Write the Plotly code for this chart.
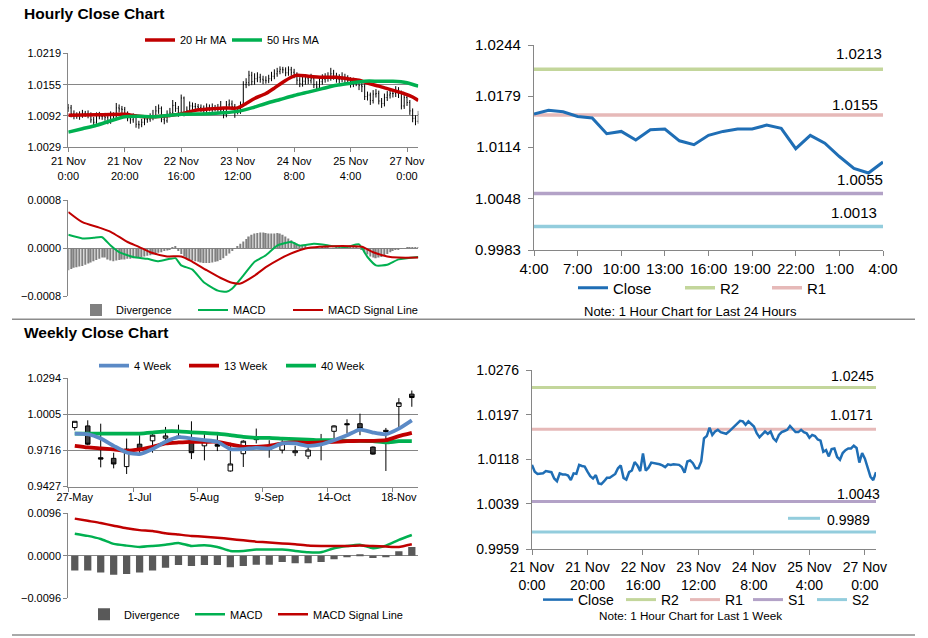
import plotly.graph_objects as go

W, H = 928, 638
FONT = "Liberation Sans, Arial, sans-serif"
BOLD = "Liberation Sans, Arial, sans-serif"
AX = "#868686"
TXT = "#000000"
RED = "#C00000"
GRN = "#00B050"
BLU = "#5B8AC6"
CLS = "#1F6EB5"
R2C, R1C, S1C, S2C = "#C3D69B", "#E6B9B8", "#B3A2C7", "#93CDDD"

# ---------------- hourly data: 21 Nov 0:00 .. 27 Nov 4:00 ----------------
hour_tick_idx = [0, 20, 40, 60, 80, 100, 120]
hour_tick_text = ["21 Nov<br>0:00", "21 Nov<br>20:00", "22 Nov<br>16:00", "23 Nov<br>12:00",
                  "24 Nov<br>8:00", "25 Nov<br>4:00", "27 Nov<br>0:00"]

close_1h = [1.0108, 1.0096, 1.0092, 1.0092, 1.0093, 1.0097, 1.0096, 1.0095, 1.0084, 1.0079,
            1.0093, 1.0091, 1.0091, 1.0089, 1.0081, 1.0093, 1.0092, 1.0108, 1.0106, 1.0105,
            1.0096, 1.0088, 1.0084, 1.0090, 1.0075, 1.0074, 1.0079, 1.0085, 1.0085, 1.0089,
            1.0092, 1.0102, 1.0107, 1.0085, 1.0082, 1.0095, 1.0098, 1.0113, 1.0107, 1.0097,
            1.0128, 1.0098, 1.0103, 1.0112, 1.0111, 1.0111, 1.0109, 1.0107, 1.0104, 1.0109,
            1.0108, 1.0109, 1.0108, 1.0108, 1.0104, 1.0094, 1.0114, 1.0116, 1.0111, 1.0102,
            1.0102, 1.0114, 1.0155, 1.0159, 1.0174, 1.0161, 1.0167, 1.0170, 1.0166, 1.0164,
            1.0163, 1.0167, 1.0172, 1.0177, 1.0182, 1.0186, 1.0185, 1.0179, 1.0185, 1.0180,
            1.0176, 1.0164, 1.0157, 1.0162, 1.0167, 1.0163, 1.0167, 1.0155, 1.0150, 1.0161,
            1.0166, 1.0168, 1.0170, 1.0177, 1.0172, 1.0166, 1.0166, 1.0170, 1.0166, 1.0164,
            1.0156, 1.0161, 1.0159, 1.0153, 1.0151, 1.0131, 1.0134, 1.0123, 1.0136, 1.0137,
            1.0122, 1.0117, 1.0129, 1.0134, 1.0137, 1.0137, 1.0142, 1.0138, 1.0112, 1.0129,
            1.0119, 1.0102, 1.0087, 1.0081, 1.0095]
high_1h = [1.0116, 1.0114, 1.0103, 1.0099, 1.0101, 1.0104, 1.0102, 1.0103, 1.0099, 1.0090,
           1.0099, 1.0100, 1.0097, 1.0098, 1.0094, 1.0101, 1.0099, 1.0118, 1.0115, 1.0112,
           1.0110, 1.0101, 1.0094, 1.0097, 1.0095, 1.0082, 1.0086, 1.0092, 1.0091, 1.0097,
           1.0104, 1.0112, 1.0115, 1.0111, 1.0091, 1.0103, 1.0108, 1.0124, 1.0120, 1.0112,
           1.0135, 1.0131, 1.0111, 1.0121, 1.0119, 1.0118, 1.0116, 1.0115, 1.0113, 1.0117,
           1.0115, 1.0117, 1.0114, 1.0116, 1.0122, 1.0109, 1.0122, 1.0125, 1.0123, 1.0116,
           1.0110, 1.0121, 1.0162, 1.0168, 1.0183, 1.0181, 1.0178, 1.0180, 1.0177, 1.0173,
           1.0172, 1.0175, 1.0181, 1.0186, 1.0189, 1.0192, 1.0191, 1.0190, 1.0192, 1.0191,
           1.0187, 1.0180, 1.0170, 1.0171, 1.0176, 1.0174, 1.0177, 1.0172, 1.0162, 1.0170,
           1.0176, 1.0178, 1.0180, 1.0189, 1.0185, 1.0179, 1.0176, 1.0180, 1.0177, 1.0174,
           1.0170, 1.0169, 1.0167, 1.0164, 1.0160, 1.0156, 1.0141, 1.0139, 1.0144, 1.0146,
           1.0143, 1.0128, 1.0137, 1.0142, 1.0147, 1.0146, 1.0152, 1.0150, 1.0143, 1.0136,
           1.0134, 1.0124, 1.0107, 1.0093, 1.0102]
low_1h = [1.0100, 1.0089, 1.0085, 1.0086, 1.0084, 1.0088, 1.0090, 1.0087, 1.0078, 1.0072,
          1.0076, 1.0085, 1.0084, 1.0082, 1.0075, 1.0076, 1.0085, 1.0088, 1.0099, 1.0097,
          1.0089, 1.0081, 1.0076, 1.0078, 1.0068, 1.0066, 1.0069, 1.0073, 1.0078, 1.0080,
          1.0083, 1.0087, 1.0096, 1.0079, 1.0075, 1.0078, 1.0089, 1.0093, 1.0100, 1.0090,
          1.0092, 1.0091, 1.0092, 1.0097, 1.0104, 1.0103, 1.0102, 1.0100, 1.0097, 1.0098,
          1.0101, 1.0100, 1.0101, 1.0100, 1.0097, 1.0087, 1.0089, 1.0107, 1.0104, 1.0088,
          1.0095, 1.0096, 1.0110, 1.0148, 1.0152, 1.0154, 1.0155, 1.0160, 1.0159, 1.0156,
          1.0157, 1.0158, 1.0162, 1.0166, 1.0171, 1.0176, 1.0178, 1.0172, 1.0173, 1.0173,
          1.0168, 1.0155, 1.0150, 1.0151, 1.0155, 1.0156, 1.0157, 1.0148, 1.0144, 1.0146,
          1.0155, 1.0159, 1.0161, 1.0163, 1.0165, 1.0159, 1.0158, 1.0160, 1.0158, 1.0156,
          1.0149, 1.0150, 1.0152, 1.0144, 1.0140, 1.0124, 1.0123, 1.0114, 1.0117, 1.0129,
          1.0115, 1.0108, 1.0111, 1.0122, 1.0127, 1.0129, 1.0130, 1.0128, 1.0105, 1.0106,
          1.0112, 1.0094, 1.0079, 1.0073, 1.0076]

ma20_idx = [0, 10, 20, 25, 30, 40, 45, 50, 55, 60, 63, 66, 70, 73, 76, 79, 81, 85, 90, 95,
            100, 103, 106, 110, 113, 116, 119, 122, 124]
ma20 = [1.0093, 1.0094, 1.0095, 1.0091, 1.0090, 1.0096, 1.0103, 1.0106, 1.0108, 1.0108,
        1.0117, 1.0127, 1.0137, 1.0148, 1.0160, 1.0170, 1.0174, 1.0172, 1.0170, 1.0170,
        1.0166, 1.0164, 1.0158, 1.0152, 1.0147, 1.0142, 1.0137, 1.0130, 1.0123]
ma50_idx = [0, 5, 10, 15, 20, 25, 30, 40, 50, 55, 60, 65, 70, 75, 80, 85, 90, 95, 100, 105,
            110, 115, 120, 124]
ma50 = [1.0059, 1.0066, 1.0073, 1.0082, 1.0090, 1.0091, 1.0090, 1.0095, 1.0096, 1.0098,
        1.0101, 1.0108, 1.0117, 1.0125, 1.0133, 1.0140, 1.0147, 1.0154, 1.0158, 1.0162,
        1.0162, 1.0162, 1.0159, 1.0152]

div_1h = [-0.00037, -0.00035, -0.00033, -0.00032, -0.00031, -0.00030, -0.00028, -0.00026, -0.00024,
          -0.00022, -0.00020, -0.00018, -0.00016,
          -0.00016, -0.00019, -0.00021, -0.00022, -0.00021, -0.00020, -0.00019, -0.00019, -0.00018,
          -0.00018, -0.00017, -0.00016,
          -0.00016, -0.00015, -0.00014, -0.00013, -0.00012, -0.00011, -0.00010, -0.00008, -0.00007,
          -0.00005, -0.00004, -0.00002, 0.00001, 0.00002,
          -0.00005, -0.00010, -0.00014, -0.00017, -0.00019, -0.00021, -0.00022, -0.00023, -0.00024,
          -0.00025, -0.00025, -0.00025, -0.00024, -0.00023, -0.00022, -0.00020, -0.00017, -0.00013,
          -0.00009, -0.00005,
          -0.00001, 0.00003, 0.00007, 0.00011, 0.00015, 0.00019, 0.00022, 0.00024, 0.00025, 0.00026,
          0.00026, 0.00025, 0.00024, 0.00024, 0.00024, 0.00025, 0.00024, 0.00022, 0.00019, 0.00016,
          0.00013, 0.00010, 0.00007, 0.00005, 0.00003, 0.00002,
          0.00001, 0.00001, 0.00000, -0.00001, -0.00001, 0.00001, 0.00002, 0.00001, 0.00000, -0.00001,
          0.00001, 0.00002, 0.00002, 0.00001, 0.00001, 0.00002, 0.00003, 0.00002, 0.00000, -0.00003,
          -0.00007, -0.00011, -0.00014, -0.00016, -0.00017, -0.00016, -0.00015, -0.00013, -0.00010,
          -0.00007, -0.00005, -0.00003, -0.00002, -0.00001, 0.00000, 0.00001, 0.00001, 0.00001,
          0.00001, 0.00001]
macd_1h_idx = [0, 5, 9, 12, 15, 18, 23, 28, 32, 36, 38, 40, 44, 48, 53, 56, 58, 62, 66, 70, 74,
               79, 82, 87, 90, 94, 99, 103, 106, 109, 113, 117, 124]
macd_1h = [0.00022, 0.00016, 0.00017, 0.00018, 0.00004, -0.00007, -0.00015, -0.00018, -0.00022,
           -0.00018, -0.00017, -0.00029, -0.00036, -0.00057, -0.00071, -0.00073, -0.00068, -0.00046,
           -0.00023, -0.00012, 0.00004, 0.00010, 0.00004, 0.00007, 0.00006, 0.00003, 0.00002,
           0.00006, -0.00015, -0.00029, -0.00028, -0.00019, -0.00015]
sig_1h_idx = [0, 5, 11, 15, 21, 25, 29, 35, 40, 44, 49, 54, 58, 61, 66, 70, 75, 80, 84, 89, 94,
              100, 104, 108, 113, 117, 124]
sig_1h = [0.00060, 0.00043, 0.00034, 0.00027, 0.00010, 0.00002, -0.00007, -0.00014, -0.00014,
          -0.00023, -0.00037, -0.00050, -0.00058, -0.00059, -0.00046, -0.00032, -0.00018, -0.00007,
          -0.00001, 0.00002, 0.00003, 0.00003, 0.00002, -0.00007, -0.00014, -0.00016, -0.00016]

# ---------------- last 24 hours ----------------
h24_labels = ["4:00", "5:00", "6:00", "7:00", "8:00", "9:00", "10:00", "11:00", "12:00",
              "13:00", "14:00", "15:00", "16:00", "17:00", "18:00", "19:00", "20:00", "21:00",
              "22:00", "23:00", "0:00", "1:00", "2:00", "3:00", "4:00"]
close_24h = close_1h[-25:]
lv24 = {"R2": 1.0213, "R1": 1.0155, "S1": 1.0055, "S2": 1.0013}
lv1w = {"R2": 1.0245, "R1": 1.0171, "S1": 1.0043, "S2": 0.9989}

# ---------------- weekly data ----------------
week_labels = ["27-May", "3-Jun", "10-Jun", "17-Jun", "24-Jun", "1-Jul", "8-Jul", "15-Jul",
               "22-Jul", "29-Jul", "5-Aug", "12-Aug", "19-Aug", "26-Aug", "2-Sep", "9-Sep",
               "16-Sep", "23-Sep", "30-Sep", "7-Oct", "14-Oct", "21-Oct", "28-Oct", "4-Nov",
               "11-Nov", "18-Nov", "25-Nov"]
w_open = [0.9898, 0.9911, 0.9657, 0.9652, 0.9586, 0.9765, 0.9792, 0.9813, 0.9829, 0.9797,
          0.9752, 0.9763, 0.9551, 0.9689, 0.9810, 0.9723, 0.9718, 0.9697, 0.9670, 0.9789,
          0.9868, 0.9929, 0.9929, 0.9742, 0.9876, 1.0067, 1.0165]
w_high = [0.9948, 0.9956, 0.9929, 0.9697, 0.9810, 0.9837, 0.9868, 0.9903, 0.9921, 0.9948,
          0.9863, 0.9842, 0.9776, 0.9797, 0.9890, 0.9797, 0.9810, 0.9752, 0.9752, 0.9847,
          0.9916, 0.9964, 1.0009, 0.9747, 0.9895, 1.0133, 1.0194]
w_low = [0.9876, 0.9757, 0.9580, 0.9572, 0.9527, 0.9691, 0.9697, 0.9797, 0.9810, 0.9646,
         0.9636, 0.9710, 0.9546, 0.9583, 0.9771, 0.9657, 0.9691, 0.9670, 0.9646, 0.9636,
         0.9810, 0.9850, 0.9837, 0.9681, 0.9551, 0.9890, 1.0064]
w_close = [0.9948, 0.9765, 0.9646, 0.9607, 0.9726, 0.9720, 0.9837, 0.9831, 0.9823, 0.9697,
           0.9789, 0.9749, 0.9607, 0.9789, 0.9802, 0.9731, 0.9771, 0.9712, 0.9718, 0.9779,
           0.9911, 0.9921, 0.9890, 0.9686, 0.9866, 1.0096, 1.0138]
ma4w = [0.9850, 0.9845, 0.9810, 0.9752, 0.9699, 0.9686, 0.9726, 0.9784, 0.9821, 0.9810,
        0.9797, 0.9784, 0.9726, 0.9726, 0.9736, 0.9731, 0.9771, 0.9771, 0.9752, 0.9763,
        0.9797, 0.9837, 0.9882, 0.9858, 0.9845, 0.9890, 0.9956]
ma13w = [0.9752, 0.9739, 0.9731, 0.9723, 0.9712, 0.9723, 0.9744, 0.9771, 0.9779, 0.9784,
         0.9784, 0.9784, 0.9763, 0.9744, 0.9744, 0.9752, 0.9771, 0.9779, 0.9776, 0.9779,
         0.9784, 0.9789, 0.9792, 0.9792, 0.9797, 0.9829, 0.9855]
ma40w = [0.9850, 0.9850, 0.9850, 0.9850, 0.9850, 0.9850, 0.9858, 0.9868, 0.9868, 0.9860,
         0.9855, 0.9850, 0.9837, 0.9823, 0.9816, 0.9816, 0.9810, 0.9805, 0.9802, 0.9797,
         0.9797, 0.9792, 0.9792, 0.9789, 0.9779, 0.9789, 0.9789]
div_w = [-0.0033, -0.0033, -0.0038, -0.0043, -0.0041, -0.0038, -0.0033, -0.0027, -0.0021,
         -0.0023, -0.0021, -0.0021, -0.0026, -0.0023, -0.0020, -0.0020, -0.0014, -0.0017,
         -0.0017, -0.0014, -0.0008, -0.0003, 0.0002, -0.0005, -0.0002, 0.0010, 0.0020]
macd_w = [0.0050, 0.0045, 0.0038, 0.0027, 0.0023, 0.0020, 0.0022, 0.0025, 0.0029, 0.0022,
          0.0024, 0.0020, 0.0011, 0.0011, 0.0014, 0.0014, 0.0014, 0.0011, 0.0008, 0.0008,
          0.0017, 0.0022, 0.0025, 0.0017, 0.0023, 0.0036, 0.0047]
sig_w = [0.0084, 0.0079, 0.0074, 0.0068, 0.0062, 0.0058, 0.0056, 0.0051, 0.0048, 0.0045,
         0.0043, 0.0041, 0.0038, 0.0035, 0.0032, 0.0030, 0.0028, 0.0026, 0.0023, 0.0022,
         0.0022, 0.0022, 0.0023, 0.0022, 0.0021, 0.0020, 0.0026]

# axis tick values
p1_yticks = [1.0029, 1.0092, 1.0155, 1.0219]
p2_yticks = [-0.0008, 0.0, 0.0008]
p3_yticks = [0.9983, 1.0048, 1.0114, 1.0179, 1.0244]
p4_yticks = [0.9427, 0.9716, 1.0005, 1.0294]
p5_yticks = [-0.0096, 0.0, 0.0096]
p6_yticks = [0.9959, 1.0039, 1.0118, 1.0197, 1.0276]

hours = list(range(len(close_1h)))
h24 = list(range(len(close_24h)))
weeks = list(range(len(week_labels)))
open_1h = [close_1h[0]] + close_1h[:-1]


# ---------------- helpers ----------------
def xd(a, b):
    return [a / W, b / W]


def yd(top, bot):
    return [1 - bot / H, 1 - top / H]


def px(x):
    return x / W


def py(y):
    return 1 - y / H


legends = {}


def leg(n, text_x, y, size):
    key = "legend" if n == 1 else f"legend{n}"
    legends[key] = dict(x=px(text_x - 40), y=py(y), xanchor="left", yanchor="middle",
                        orientation="h", bgcolor="rgba(0,0,0,0)", borderwidth=0,
                        font=dict(family=FONT, size=size, color=TXT), itemwidth=30,
                        itemclick=False, itemdoubleclick=False)
    return key


fig = go.Figure()

# ---- panel 1: hourly OHLC + MAs
fig.add_trace(go.Ohlc(x=hours, open=open_1h, high=high_1h, low=low_1h, close=close_1h,
                      increasing=dict(line=dict(color="black", width=1)),
                      decreasing=dict(line=dict(color="black", width=1)),
                      tickwidth=0.25, xaxis="x", yaxis="y", showlegend=False, hoverinfo="skip"))
fig.add_trace(go.Scatter(x=ma20_idx, y=ma20, mode="lines", name="20 Hr MA",
                         line=dict(color=RED, width=3.5, shape="spline", smoothing=0.7),
                         legend=leg(1, 180, 40, 11), xaxis="x", yaxis="y"))
fig.add_trace(go.Scatter(x=ma50_idx, y=ma50, mode="lines", name="50 Hrs MA",
                         line=dict(color=GRN, width=3.5, shape="spline", smoothing=0.7),
                         legend=leg(2, 267, 40, 11), xaxis="x", yaxis="y"))

# ---- panel 2: hourly MACD
fig.add_trace(go.Bar(x=hours, y=div_1h, width=0.5, name="Divergence",
                     marker=dict(color="#808080", line=dict(width=0)),
                     legend=leg(3, 116, 310, 11), xaxis="x2", yaxis="y2"))
fig.add_trace(go.Scatter(x=macd_1h_idx, y=macd_1h, mode="lines", name="MACD",
                         line=dict(color=GRN, width=2, shape="spline", smoothing=0.5),
                         legend=leg(4, 233, 310, 11), xaxis="x2", yaxis="y2"))
fig.add_trace(go.Scatter(x=sig_1h_idx, y=sig_1h, mode="lines", name="MACD Signal Line",
                         line=dict(color=RED, width=2, shape="spline", smoothing=0.7),
                         legend=leg(5, 328, 310, 11), xaxis="x2", yaxis="y2"))

# ---- panel 3: last 24 hours with levels
lv_col = {"R2": R2C, "R1": R1C, "S1": S1C, "S2": S2C}
lv3_leg = {"R2": leg(7, 720, 288, 15), "R1": leg(8, 807, 288, 15)}
for k in ["R2", "R1", "S1", "S2"]:
    fig.add_trace(go.Scatter(x=h24, y=[lv24[k]] * len(h24), mode="lines", name=k,
                             line=dict(color=lv_col[k], width=3.5),
                             showlegend=k in lv3_leg, legend=lv3_leg.get(k, "legend7"),
                             xaxis="x3", yaxis="y3", hoverinfo="skip"))
fig.add_trace(go.Scatter(x=h24, y=close_24h, mode="lines", name="Close",
                         line=dict(color=CLS, width=3),
                         legend=leg(6, 613, 288, 15), xaxis="x3", yaxis="y3"))

# ---- panel 4: weekly candles + MAs
fig.add_trace(go.Scatter(x=weeks, y=ma40w, mode="lines", name="40 Week",
                         line=dict(color=GRN, width=3.8, shape="spline", smoothing=0.6),
                         legend=leg(11, 321, 365.7, 11), xaxis="x4", yaxis="y4"))
fig.add_trace(go.Scatter(x=weeks, y=ma13w, mode="lines", name="13 Week",
                         line=dict(color=RED, width=3.8, shape="spline", smoothing=0.6),
                         legend=leg(10, 224, 365.7, 11), xaxis="x4", yaxis="y4"))
fig.add_trace(go.Scatter(x=weeks, y=ma4w, mode="lines", name="4 Week",
                         line=dict(color=BLU, width=3.8, shape="spline", smoothing=0.6),
                         legend=leg(9, 134, 365.7, 11), xaxis="x4", yaxis="y4"))
fig.add_trace(go.Candlestick(x=weeks, open=w_open, high=w_high, low=w_low, close=w_close,
                             increasing=dict(line=dict(color="black", width=1), fillcolor="white"),
                             decreasing=dict(line=dict(color="black", width=1), fillcolor="#404040"),
                             whiskerwidth=0, xaxis="x4", yaxis="y4", showlegend=False,
                             hoverinfo="skip"))

# ---- panel 5: weekly MACD
fig.add_trace(go.Bar(x=weeks, y=div_w, width=0.56, name="Divergence",
                     marker=dict(color="#595959", line=dict(width=0)),
                     legend=leg(12, 124, 614.3, 11), xaxis="x5", yaxis="y5"))
fig.add_trace(go.Scatter(x=weeks, y=macd_w, mode="lines", name="MACD",
                         line=dict(color=GRN, width=2.5, shape="spline", smoothing=0.5),
                         legend=leg(13, 230, 614.3, 11), xaxis="x5", yaxis="y5"))
fig.add_trace(go.Scatter(x=weeks, y=sig_w, mode="lines", name="MACD Signal Line",
                         line=dict(color=RED, width=2.5, shape="spline", smoothing=0.5),
                         legend=leg(14, 313, 614.3, 11), xaxis="x5", yaxis="y5"))

# ---- panel 6: last week hourly with levels
lv6_leg = {"R2": leg(16, 661, 600, 14), "R1": leg(17, 725, 600, 14),
           "S1": leg(18, 788, 600, 14), "S2": leg(19, 852, 600, 14)}
for k in ["R2", "R1", "S1", "S2"]:
    fig.add_trace(go.Scatter(x=hours, y=[lv1w[k]] * len(hours), mode="lines", name=k,
                             line=dict(color=lv_col[k], width=3),
                             legend=lv6_leg[k], xaxis="x6", yaxis="y6", hoverinfo="skip"))
fig.add_trace(go.Scatter(x=hours, y=close_1h, mode="lines", name="Close",
                         line=dict(color=CLS, width=2.5),
                         legend=leg(15, 578, 600, 14), xaxis="x6", yaxis="y6"))

# ---------------- axes ----------------
tf = lambda s: dict(family=FONT, size=s, color=TXT)
left_y = dict(showgrid=True, gridcolor=AX, gridwidth=1, showline=True, linecolor=AX, linewidth=1,
              ticks="outside", ticklen=4, tickcolor=AX, zeroline=False, tickfont=tf(11),
              tickmode="array", tickformat=".4f", fixedrange=True)
right_y = dict(showgrid=False, showline=True, linecolor=AX, linewidth=1.2, ticks="outside",
               ticklen=5, tickcolor=AX, zeroline=False, tickmode="array", tickformat=".4f",
               ticklabelstandoff=4, fixedrange=True)
base_x = dict(showgrid=False, zeroline=False, showline=True, linecolor=AX, linewidth=1,
              tickcolor=AX, fixedrange=True, rangeslider=dict(visible=False))

layout_axes = dict(
    xaxis=dict(base_x, domain=xd(68.3, 418.3), anchor="y", range=[0, 124], tickmode="array",
               tickvals=hour_tick_idx, ticktext=hour_tick_text, ticks="outside", ticklen=4,
               tickfont=tf(11)),
    yaxis=dict(left_y, domain=yd(53, 147), anchor="x", range=[p1_yticks[0], p1_yticks[-1]],
               tickvals=p1_yticks),
    xaxis2=dict(base_x, domain=xd(68.3, 418.3), anchor="y2", range=[0, 124], showticklabels=False,
                ticks="", showline=False),
    yaxis2=dict(left_y, domain=yd(200, 296), anchor="x2", range=[p2_yticks[0], p2_yticks[-1]],
                tickvals=p2_yticks),
    xaxis3=dict(base_x, domain=xd(534, 883), anchor="y3", range=[0, 24], tickmode="array",
                tickvals=h24[::3], ticktext=h24_labels[::3], ticks="outside", ticklen=5,
                linewidth=1.2, tickfont=tf(15)),
    yaxis3=dict(right_y, domain=yd(45, 250), anchor="x3", range=[p3_yticks[0], p3_yticks[-1]],
                tickvals=p3_yticks, tickfont=tf(15)),
    xaxis4=dict(base_x, domain=xd(68.3, 418.3), anchor="y4", range=[-0.5, 26.5],
                tickmode="array", tickvals=weeks[::5], ticktext=week_labels[::5], ticks="",
                tickfont=tf(11),
                minor=dict(tickmode="array", tickvals=[w - 0.5 for w in weeks[::5]],
                           ticks="outside", ticklen=4, tickcolor=AX, showgrid=False)),
    yaxis4=dict(left_y, domain=yd(378, 486.5), anchor="x4", range=[p4_yticks[0], p4_yticks[-1]],
                tickvals=p4_yticks),
    xaxis5=dict(base_x, domain=xd(68.3, 418.3), anchor="y5", range=[-0.5, 26.5],
                showticklabels=False, ticks="", showline=False),
    yaxis5=dict(left_y, domain=yd(513.3, 598.3), anchor="x5", range=[p5_yticks[0], p5_yticks[-1]],
                tickvals=p5_yticks),
    xaxis6=dict(base_x, domain=xd(532, 876), anchor="y6", range=[0, 124], tickmode="array",
                tickvals=hour_tick_idx, ticktext=hour_tick_text, ticks="outside", ticklen=5,
                linewidth=1.2, tickfont=tf(14)),
    yaxis6=dict(right_y, domain=yd(370, 549), anchor="x6", range=[p6_yticks[0], p6_yticks[-1]],
                tickvals=p6_yticks, tickfont=tf(14)),
)

# ---------------- annotations ----------------
ann = []
ann.append(dict(text="<b>Hourly Close Chart</b>", x=px(22), y=py(13.5), xref="paper", yref="paper",
                xanchor="left", yanchor="middle", showarrow=False, font=dict(family=BOLD, size=15.5, color=TXT)))
ann.append(dict(text="<b>Weekly Close Chart</b>", x=px(22), y=py(332.5), xref="paper", yref="paper",
                xanchor="left", yanchor="middle", showarrow=False, font=dict(family=BOLD, size=15.5, color=TXT)))
ann.append(dict(text="Note: 1 Hour Chart for Last 24 Hours", x=px(690), y=py(311.5), xref="paper",
                yref="paper", xanchor="center", yanchor="middle", showarrow=False, font=tf(13)))
ann.append(dict(text="Note: 1 Hour Chart for Last 1 Week", x=px(690), y=py(615), xref="paper",
                yref="paper", xanchor="center", yanchor="middle", showarrow=False, font=tf(11.7)))
# level labels (data labels on last point)
lab24 = {"R2": (-24, 15.5), "R1": (-28, 10.5), "S1": (-23, 14), "S2": (-29, 13.5)}
for k, (dx, dy) in lab24.items():
    ann.append(dict(text=f"{lv24[k]:.4f}", x=h24[-1], y=lv24[k], xref="x3", yref="y3",
                    xanchor="center", yanchor="middle", xshift=dx, yshift=dy, showarrow=False,
                    font=tf(15)))
lab1w = {"R2": (-24, 12), "R1": (-25, 14), "S1": (-18, 8), "S2": (-28, 12.5)}
for k, (dx, dy) in lab1w.items():
    ann.append(dict(text=f"{lv1w[k]:.4f}", x=hours[-1], y=lv1w[k], xref="x6", yref="y6",
                    xanchor="center", yanchor="middle", xshift=dx, yshift=dy, showarrow=False,
                    font=tf(14)))

shapes = [
    dict(type="line", xref="paper", yref="paper", x0=px(12), x1=px(915), y0=py(319.3), y1=py(319.3),
         line=dict(color="#8C8C8C", width=1.5)),
    dict(type="line", xref="paper", yref="paper", x0=px(12), x1=px(915), y0=py(635), y1=py(635),
         line=dict(color="#8C8C8C", width=1.5)),
    # leader line of the S2 data label
    dict(type="line", xref="paper", yref="paper", x0=px(788), x1=px(820), y0=py(518.3), y1=py(518.3),
         line=dict(color=S2C, width=3)),
]

fig.update_layout(
    width=W, height=H, margin=dict(l=0, r=0, t=0, b=0, pad=0, autoexpand=False),
    paper_bgcolor="white", plot_bgcolor="rgba(0,0,0,0)",
    font=dict(family=FONT, size=11, color=TXT),
    boxgap=0.5, bargap=0.5, hovermode=False,
    annotations=ann, shapes=shapes,
    **layout_axes, **legends,
)

fig.write_html("out.html", config={"displayModeBar": False, "staticPlot": False},
               post_script="document.body.style.margin='0px';document.body.style.overflow='hidden';")
